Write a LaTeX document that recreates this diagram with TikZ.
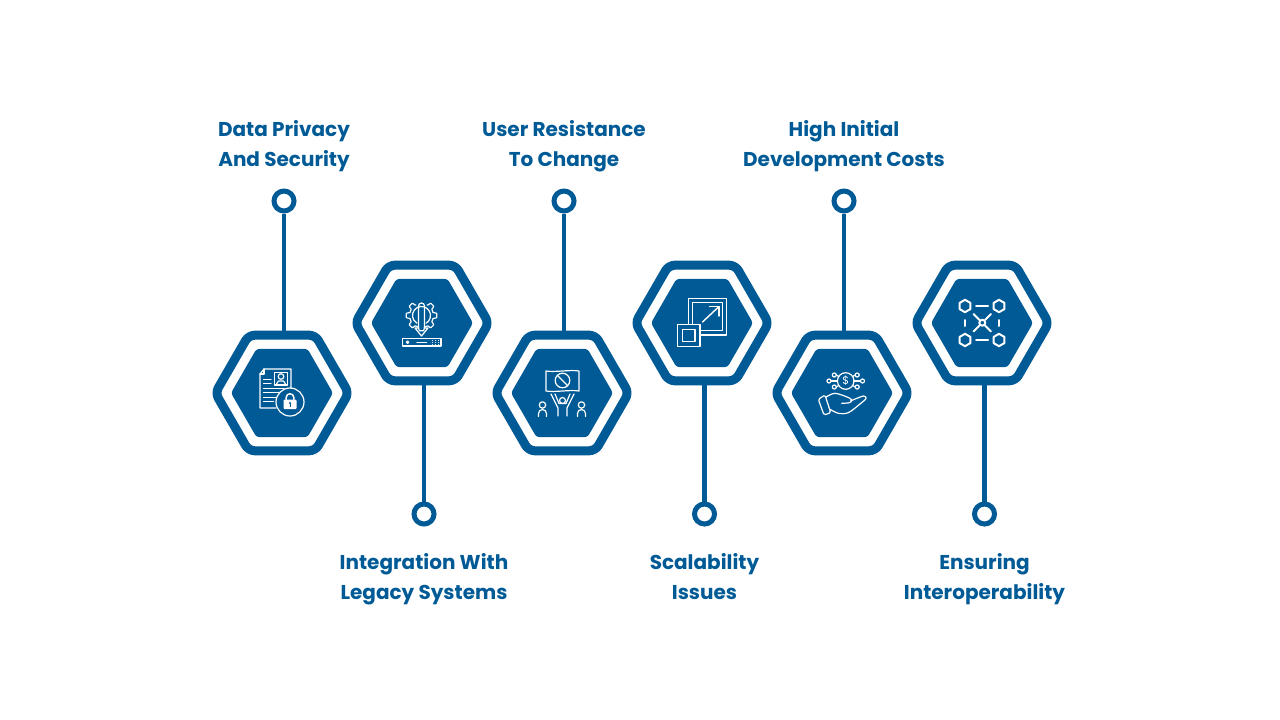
\documentclass[tikz,border=0pt]{standalone}
\usepackage{fontspec}
\setmainfont{Poppins}
\usepackage{xcolor}
\usepackage{tikz}
\usetikzlibrary{shapes.geometric,calc}
\definecolor{hexblue}{RGB}{0,90,150}
\tikzset{
  hexring/.style={regular polygon, regular polygon sides=6, inner sep=0pt,
    minimum size=133.4pt, draw=hexblue, fill=white, line width=9pt, rounded corners=6pt},
  hexcore/.style={regular polygon, regular polygon sides=6, inner sep=0pt,
    minimum size=102pt, fill=hexblue, rounded corners=3pt},
  endring/.style={circle, inner sep=0pt, minimum size=20pt, draw=hexblue, fill=white, line width=5pt},
  linkline/.style={draw=hexblue, line width=4.5pt},
  tagtext/.style={font=\fontsize{20}{30}\selectfont\bfseries, text=hexblue, align=center, anchor=base},
  iconline/.style={draw=white, line width=1.2pt, line join=round, line cap=round},
  iconthick/.style={draw=white, line width=2pt, line join=round, line cap=round}
}
\begin{document}
\begin{tikzpicture}[x=1pt, y=-1pt]
\useasboundingbox (0,0) rectangle (1280,720);

% hexagons
\foreach \n/\hx/\hy in {1/282/393, 2/422/323, 3/562/393, 4/702/323, 5/842/393, 6/982/323} {
    \node[hexring] (h\n) at (\hx,\hy) {};
    \node[hexcore] (k\n) at (\hx,\hy) {};
}

% top row: ring, connector, text
\foreach \n/\cx/\txt in {1/284/{Data Privacy\\And Security}, 3/564/{User Resistance\\To Change}, 5/844/{High Initial\\Development Costs}} {
    \node[endring] (c\n) at (\cx,201) {};
    \draw[linkline] (c\n.south) -- (c\n |- h\n.north);
    \node[tagtext] (t\n) at (\cx,166) {\txt};
}

% bottom row: ring, connector, text
\foreach \n/\cx/\txt in {2/424/{Integration With\\Legacy Systems}, 4/704.5/{Scalability\\Issues}, 6/984.5/{Ensuring\\Interoperability}} {
    \node[endring] (c\n) at (\cx,514) {};
    \draw[linkline] (c\n |- h\n.south) -- (c\n.north);
    \node[tagtext] (t\n) at (\cx,599) {\txt};
}

% icon 1: document and lock
\draw[iconline] (291,388) -- (291,369) -- (264,369) -- (260,374) -- (260,408) -- (276,408);
\draw[iconline] (264,369) -- (264,374) -- (260,374);
\draw[iconline] (274.5,372.5) rectangle (287.5,385);
\draw[iconline] (281,376.5) circle[radius=2.8];
\draw[iconline] (276.5,385) -- (276.5,384) -- (278.5,381) -- (283.5,381) -- (285.5,384) -- (285.5,385);
\foreach \ly/\lx in {379.3/271, 383.3/271, 388.3/284, 392.7/280, 397.3/276.5, 401.7/273.5} {
    \draw[iconline] (263.5,\ly) -- (\lx,\ly);
}
\draw[iconline] (290,402) circle[radius=14];
\fill[white, rounded corners=1pt] (283.5,399.5) rectangle (296.5,409);
\draw[iconline, line width=1.5pt] (286.2,399.5) -- (286.2,397.5) arc[start angle=180, end angle=360, radius=3.8] -- (293.8,399.5);
\fill[hexblue] (290,403) circle[radius=1.2];
\fill[hexblue] (289.5,403) rectangle (290.5,406.5);

% icon 2: gear, arrow and server
\begin{scope}[shift={(421.5,315.5)}]
\draw[iconline] plot[domain=-62:242, samples=160] (\x:{13.6+1.7*max(-1,min(1,2.5*cos(8*\x)))});
\draw[iconline] (60:9) arc[start angle=60, end angle=-240, radius=9];
\end{scope}
\draw[iconline] (418.5,328) -- (418.5,306) arc[start angle=180, end angle=360, radius=3] -- (424.5,328) -- (428,328) -- (421.5,336) -- (415,328) -- cycle;
\draw[iconline] (402.5,338.5) rectangle (441,346);
\draw[iconline] (407.5,342.2) circle[radius=1.2];
\draw[iconline] (417,342.2) -- (426.5,342.2);
\foreach \dx in {432.5,435.5,438.5} {
    \foreach \dy in {340.5,342.5,344.5} {
        \fill[white] (\dx,\dy) circle[radius=0.5];
    }
}

% icon 3: protest sign and people
\draw[iconline] (546,371) .. controls (555,372.5) and (570,369.5) .. (579,371) -- (579,391) .. controls (570,389.5) and (555,392.5) .. (546,391) -- cycle;
\draw[iconline] (562.5,380.5) circle[radius=7.3];
\draw[iconline] (557.3,375.3) -- (567.7,385.7);
\draw[iconline] (562.5,400.5) circle[radius=3];
\draw[iconline] (551,394) -- (558,408) -- (558,416);
\draw[iconline] (555,394) -- (559,403.5) -- (566,403.5) -- (570,394);
\draw[iconline] (574,394) -- (567,408) -- (567,416);
\foreach \px in {542.5,581.5} {
    \draw[iconline] (\px,405) circle[radius=3.2];
    \draw[iconline] (\px-4,416.5) -- (\px-4,413.5) arc[start angle=180, end angle=360, radius=4] -- (\px+4,416.5);
}

% icon 4: scaling squares
\draw[iconline, line width=1.4pt] (688.5,324) -- (688.5,298.5) -- (726.5,298.5) -- (726.5,335) -- (700.5,335);
\draw[iconline, line width=1.4pt] (692.5,324) -- (692.5,302.5) -- (722.5,302.5) -- (722.5,330.5) -- (700.5,330.5);
\draw[iconline, line width=1.4pt] (677.5,324.5) rectangle (700,346.5);
\draw[iconline, line width=1.4pt] (682.5,329.5) rectangle (695,341.5);
\draw[iconline, line width=1.4pt] (702.5,322) -- (719,306.5);
\draw[iconline, line width=1.4pt] (709.5,306.5) -- (719,306.5) -- (719,316);

% icon 5: coin and hand
\draw[iconline] (845.7,381) circle[radius=8.3];
\node[text=white, font=\fontsize{11}{11}\selectfont, inner sep=0pt] (coin) at (845.7,381) {\$};
\foreach \ax/\ay in {829/381, 834.3/375, 834.3/387, 862.5/381, 857.2/375, 857.2/387} {
    \draw[iconline] (\ax,\ay) circle[radius=2];
}
\draw[iconline] (831,381) -- (837.4,381);
\draw[iconline] (836.3,375) -- (838.8,376.5);
\draw[iconline] (836.3,387) -- (838.8,385.5);
\draw[iconline] (860.5,381) -- (854,381);
\draw[iconline] (855.2,375) -- (852.6,376.5);
\draw[iconline] (855.2,387) -- (852.6,385.5);
\draw[iconline, rounded corners=1.5pt] (818.3,399.3) -- (825,395) -- (830.7,412.7) -- (824,415) -- cycle;
\draw[iconline] plot[smooth, tension=0.5] coordinates {(825.7,397.3) (835,393.3) (849,397.8) (851.7,400.7) (849,402.8) (841.7,403.3)};
\draw[iconline] plot[smooth, tension=0.5] coordinates {(850.5,401) (863.3,396) (866,398.5) (860,404) (848.3,412.7) (838.3,413.3) (830,409.3)};

% icon 6: linked hexagons
\foreach \px/\py in {965/306, 999/306, 965/340, 999/340} {
    \draw[iconthick] (\px,\py) ++(-30:6.2) -- ++(90:6.2) -- ++(150:6.2) -- ++(210:6.2) -- ++(270:6.2) -- ++(330:6.2) -- cycle;
}
\draw[iconthick] (976,306) -- (988,306);
\draw[iconthick] (976,340) -- (988,340);
\draw[iconthick] (965,320) -- (965,326);
\draw[iconthick] (999,320) -- (999,326);
\draw[iconthick] (982.3,322.7) circle[radius=3];
\foreach \ex/\ey in {973.5/314, 991/314, 973.5/331.5, 991/331.5} {
    \draw[iconthick] ($(982.3,322.7)!0.33!(\ex,\ey)$) -- (\ex,\ey);
}
\end{tikzpicture}
\end{document}
